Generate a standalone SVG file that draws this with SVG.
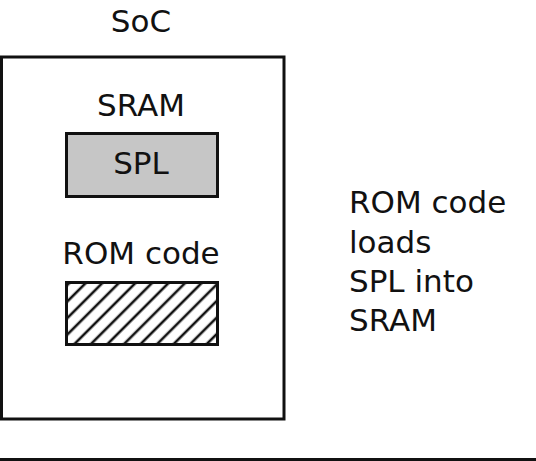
<svg xmlns="http://www.w3.org/2000/svg" width="536" height="461" viewBox="0 0 536 461">
<style>
text{font-family:"DejaVu Sans","Liberation Sans",sans-serif;font-size:31px;fill:#111}
.c{text-anchor:middle}
.box{stroke:#111;stroke-width:3}
</style>
<defs>
<pattern id="hatch" patternUnits="userSpaceOnUse" width="11.7" height="11.7" patternTransform="translate(66 282) rotate(45)">
<line x1="3" y1="-1" x2="3" y2="13" stroke="#111" stroke-width="2.6"/>
</pattern>
</defs>
<rect width="536" height="461" fill="#fff"/>
<g id="soc">
<text class="c" x="141" y="32">SoC</text>
<rect class="box" x="1.5" y="57" width="282.5" height="362" fill="none"/>
</g>
<g id="sram">
<text class="c" x="141" y="116">SRAM</text>
</g>
<g id="spl">
<rect class="box" x="66.5" y="133.5" width="151" height="63" fill="#c6c6c6"/>
<text class="c" x="141" y="174">SPL</text>
</g>
<g id="rom">
<text class="c" x="141" y="264">ROM code</text>
<rect x="66.5" y="282.5" width="151" height="62" fill="#fff"/>
<rect class="box" x="66.5" y="282.5" width="151" height="62" fill="url(#hatch)"/>
</g>
<g id="note">
<text x="349" y="213">ROM code</text>
<text x="349" y="253">loads</text>
<text x="349" y="292">SPL into</text>
<text x="349" y="331">SRAM</text>
</g>
<g id="connectors"></g>
<line x1="0" y1="459.5" x2="536" y2="459.5" stroke="#111" stroke-width="3"/>
</svg>
